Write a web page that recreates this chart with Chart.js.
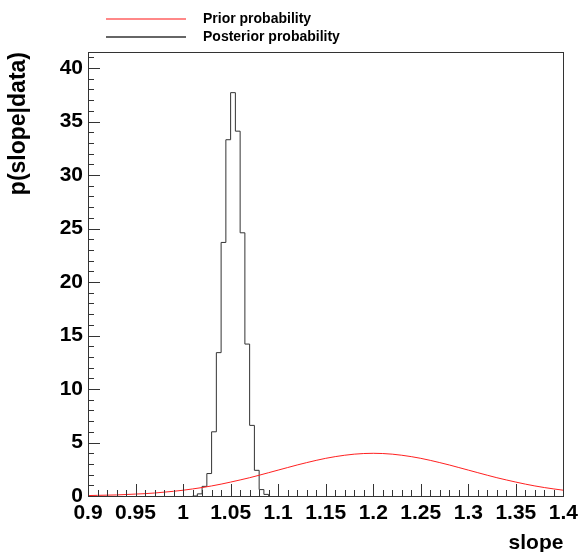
<!DOCTYPE html>
<html>
<head>
<meta charset="utf-8">
<script src="https://cdn.jsdelivr.net/npm/chart.js@4.4.1/dist/chart.umd.min.js"></script>
<style>
  html, body { margin: 0; padding: 0; background: #fff; }
  #wrap { width: 583px; height: 552px; }
</style>
</head>
<body>
<div id="wrap"><canvas id="c" width="583" height="552"></canvas></div>
<script>
// Posterior histogram: lower bin edges (bin width 0.005) plus the closing edge
const slopeBinEdges = [1.010, 1.015, 1.020, 1.025, 1.030, 1.035, 1.040, 1.045, 1.050,
                       1.055, 1.060, 1.065, 1.070, 1.075, 1.080, 1.085, 1.090];
const posteriorValues = [0, 0.2, 0.9, 2.1, 6.0, 13.4, 23.7, 33.3, 37.7,
                         34.1, 24.6, 14.2, 6.6, 2.4, 0.6, 0.15];

// Prior density sampled along the slope axis
const priorSlope = [0.90, 0.91, 0.92, 0.93, 0.94, 0.95, 0.96, 0.97, 0.98, 0.99,
                    1.00, 1.01, 1.02, 1.03, 1.04, 1.05, 1.06, 1.07, 1.08, 1.09,
                    1.10, 1.11, 1.12, 1.13, 1.14, 1.15, 1.16, 1.17, 1.18, 1.19,
                    1.20, 1.21, 1.22, 1.23, 1.24, 1.25, 1.26, 1.27, 1.28, 1.29,
                    1.30, 1.31, 1.32, 1.33, 1.34, 1.35, 1.36, 1.37, 1.38, 1.39, 1.40];
const priorValues = [0.04, 0.06, 0.08, 0.10, 0.14, 0.18, 0.22, 0.28, 0.36, 0.44,
                     0.54, 0.66, 0.79, 0.94, 1.11, 1.30, 1.50, 1.71, 1.94, 2.18,
                     2.42, 2.66, 2.90, 3.12, 3.33, 3.52, 3.68, 3.81, 3.91, 3.97,
                     3.99, 3.97, 3.91, 3.81, 3.68, 3.52, 3.33, 3.12, 2.90, 2.66,
                     2.42, 2.18, 1.94, 1.71, 1.50, 1.30, 1.11, 0.94, 0.79, 0.66, 0.54];

const seriesLabels = ['Prior probability', 'Posterior probability'];
const xTitle = 'slope';
const yTitle = 'p(slope|data)';

const FONT = "'Liberation Sans', Arial, Helvetica, sans-serif";

// Step outline: each bin value runs from its lower edge to the next edge
const posteriorPoints = posteriorValues.map((v, i) => ({ x: slopeBinEdges[i], y: v }));
posteriorPoints.push({ x: slopeBinEdges[slopeBinEdges.length - 1], y: 0 });
const priorPoints = priorSlope.map((s, i) => ({ x: s, y: priorValues[i] }));

// Frame around the plot and tick marks pointing inward
const frameAndTicks = {
  id: 'frameAndTicks',
  afterDatasetsDraw(chart) {
    const { ctx, chartArea: a, scales: { x, y } } = chart;
    ctx.save();
    ctx.strokeStyle = '#333';
    ctx.lineWidth = 1;
    ctx.beginPath();
    for (let i = 0; i <= Math.floor(y.max); i++) {
      const py = Math.round(y.getPixelForValue(i)) + 0.5;
      const len = i % 5 === 0 ? 12 : 6;
      ctx.moveTo(a.left, py);
      ctx.lineTo(a.left + len, py);
    }
    for (let i = 0; i <= 50; i++) {
      const px = Math.round(x.getPixelForValue(x.min + i * 0.01)) + 0.5;
      const len = i % 5 === 0 ? 12 : 6;
      ctx.moveTo(px, a.bottom);
      ctx.lineTo(px, a.bottom - len);
    }
    ctx.stroke();
    ctx.strokeRect(Math.round(a.left) + 0.5, Math.round(a.top) + 0.5,
                   Math.round(a.right - a.left), Math.round(a.bottom - a.top));
    ctx.restore();
  }
};

// Two-row legend above the frame
const stackedLegend = {
  id: 'stackedLegend',
  afterDraw(chart) {
    const { ctx } = chart;
    ctx.save();
    chart.data.datasets.forEach((ds, i) => {
      const yy = 19 + i * 18;
      ctx.strokeStyle = ds.legendColor || ds.borderColor;
      ctx.lineWidth = 1.5;
      ctx.beginPath();
      ctx.moveTo(106, yy);
      ctx.lineTo(186, yy);
      ctx.stroke();
      ctx.fillStyle = '#000';
      ctx.font = 'bold 14px ' + FONT;
      ctx.textAlign = 'left';
      ctx.textBaseline = 'middle';
      ctx.fillText(ds.label, 203, yy);
    });
    ctx.restore();
  }
};

const fmt = v => String(Number(v.toFixed(2)));

new Chart(document.getElementById('c'), {
  type: 'line',
  data: {
    datasets: [
      {
        label: seriesLabels[0],
        data: priorPoints,
        borderColor: '#ff2020',
        legendColor: '#ff6060',
        borderWidth: 1,
        pointRadius: 0,
        tension: 0,
        fill: false
      },
      {
        label: seriesLabels[1],
        data: posteriorPoints,
        borderColor: '#333',
        borderWidth: 1,
        pointRadius: 0,
        stepped: 'before',
        fill: false
      }
    ]
  },
  options: {
    responsive: false,
    animation: false,
    layout: { padding: { left: 0, right: 18, top: 52, bottom: 0 } },
    plugins: { legend: { display: false }, tooltip: { enabled: false } },
    scales: {
      x: {
        type: 'linear',
        min: 0.9,
        max: 1.4,
        grid: { display: false, drawTicks: false },
        border: { display: false },
        ticks: {
          stepSize: 0.05,
          autoSkip: false,
          maxRotation: 0,
          padding: 5,
          color: '#000',
          font: { family: FONT, size: 21, weight: 'bold' },
          callback: v => fmt(v)
        },
        title: {
          display: true,
          text: xTitle,
          align: 'end',
          color: '#000',
          font: { family: FONT, size: 21, weight: 'bold' },
          padding: { top: 0, bottom: -4 }
        },
        afterFit(s) { s.height = 56; }
      },
      y: {
        min: 0,
        max: 41.5,
        grid: { display: false, drawTicks: false },
        border: { display: false },
        ticks: {
          stepSize: 5,
          includeBounds: false,
          padding: 5,
          color: '#000',
          font: { family: FONT, size: 21, weight: 'bold' },
          callback: v => fmt(v)
        },
        title: {
          display: true,
          text: yTitle,
          align: 'end',
          color: '#000',
          font: { family: FONT, size: 23, weight: 'bold' },
          padding: { top: 5, bottom: 0 }
        },
        afterFit(s) { s.width = 88; }
      }
    }
  },
  plugins: [frameAndTicks, stackedLegend]
});
</script>
</body>
</html>
